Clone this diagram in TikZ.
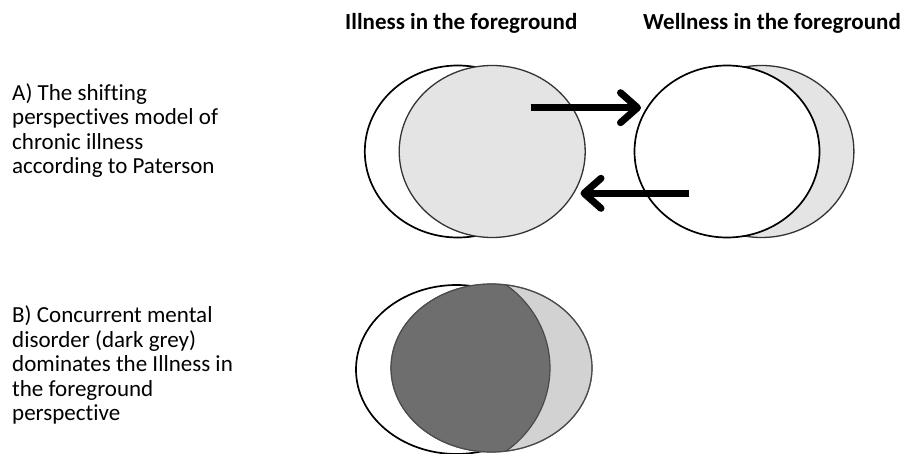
\documentclass[tikz,border=0pt]{standalone}
\usepackage{fontspec}
\setmainfont{Carlito}[Ligatures=NoCommon]
\usetikzlibrary{shapes.geometric,arrows.meta}
\definecolor{lightfill}{HTML}{E4E4E4}
\definecolor{midfill}{HTML}{D2D2D2}
\definecolor{darkfill}{HTML}{6E6E6E}
\definecolor{edgegrey}{HTML}{7A7A7A}
\definecolor{arcgrey}{HTML}{4A4A4A}
\tikzset{
  oval/.style={ellipse, inner sep=0pt, minimum width=#1},
  blackedge/.style={draw=black, line width=1.7pt},
  greyedge/.style={draw=black!80, line width=1.3pt},
  lbl/.style={anchor=base west, inner sep=0pt, font=\fontsize{23}{24}\selectfont},
  hdr/.style={anchor=base west, inner sep=0pt, font=\fontsize{23}{24}\selectfont\bfseries},
  bigarrow/.style={line width=7pt, -{Straight Barb[length=17pt,width=30pt,round]}}
}
\begin{document}
\begin{tikzpicture}[x=1pt,y=-1pt]
\useasboundingbox (0,0) rectangle (902,454);
\fill[white] (0,0) rectangle (902,454);

% headers
\node[hdr] (h1) at (345,29.3) {Illness in the foreground};
\node[hdr] (h2) at (643,29.3) {Wellness in the foreground};

% A text
\node[lbl] (a1) at (12,100.7) {A) The shifting};
\node[lbl] (a2) at (12,124.9) {perspectives model of};
\node[lbl] (a3) at (12,149.1) {chronic illness};
\node[lbl] (a4) at (12,173.3) {according to Paterson};

% B text
\node[lbl] (b1) at (12,322.7) {B) Concurrent mental};
\node[lbl] (b2) at (12,347.2) {disorder (dark grey)};
\node[lbl] (b3) at (12,371.7) {dominates the Illness in};
\node[lbl] (b4) at (12,396.2) {the foreground};
\node[lbl] (b5) at (12,420.7) {perspective};

% top-left pair: illness in the foreground
\node[oval=186pt, minimum height=172pt, blackedge, fill=white] (ilback) at (457.8,151.5) {};
\node[oval=186pt, minimum height=172pt, greyedge, fill=lightfill] (ilfront) at (492.2,151.5) {};

% top-right pair: wellness in the foreground
\node[oval=185pt, minimum height=172pt, greyedge, fill=lightfill] (wlback) at (761.4,151.5) {};
\node[oval=185pt, minimum height=172pt, blackedge, fill=white] (wlfront) at (727,151.5) {};

% arrows
\coordinate (u1) at (530.7,107.7);
\coordinate (u2) at (641,107.7);
\coordinate (l1) at (689.3,193.3);
\coordinate (l2) at (580.5,193.3);
\draw[bigarrow] (u1) -- (u2);
\draw[bigarrow] (l1) -- (l2);

% bottom group
\node[oval=201pt, minimum height=169pt, blackedge, fill=white] (bback) at (456.5,369.5) {};
\node[oval=201pt, minimum height=168pt, draw=edgegrey, line width=1.2pt, fill=midfill] (bfront) at (491.5,368) {};
\begin{scope}
  \clip (491.5,368) ellipse [x radius=100.5pt, y radius=84pt];
  \fill[darkfill] (440,368) ellipse [x radius=110pt, y radius=104pt];
  \draw[arcgrey, line width=1.2pt] (440,368) ellipse [x radius=110pt, y radius=104pt];
\end{scope}
\draw[draw=arcgrey, line width=1.2pt] (491.5,368) ellipse [x radius=100.5pt, y radius=84pt];
\end{tikzpicture}
\end{document}
